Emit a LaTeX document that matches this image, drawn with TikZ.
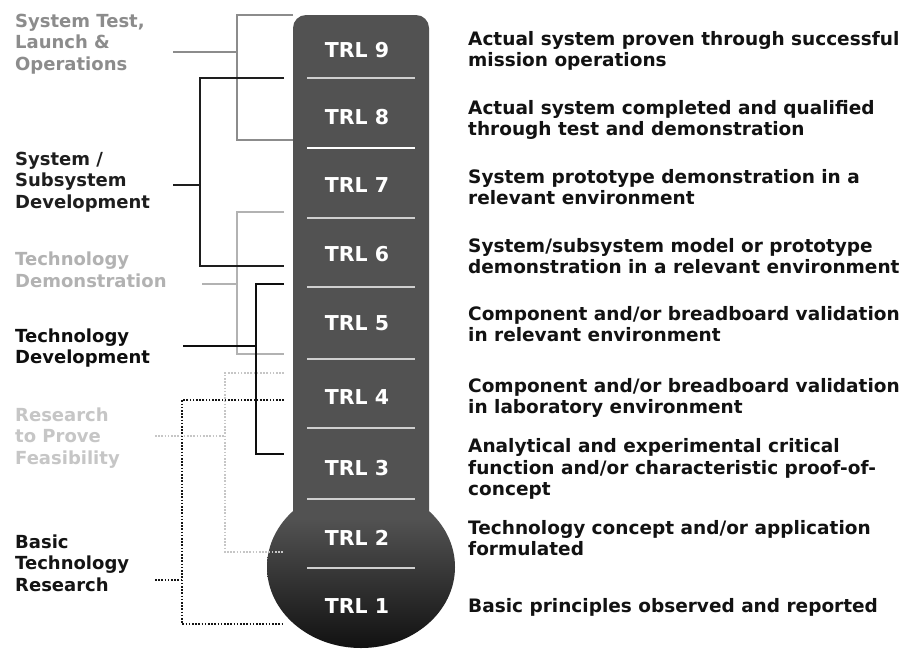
\documentclass[tikz,border=0pt]{standalone}
\usepackage{fontspec}
\setmainfont{DejaVu Sans}
\definecolor{tubec}{HTML}{525252}
\definecolor{bulbtop}{HTML}{525252}
\definecolor{bulbmid}{HTML}{3A3A3A}
\definecolor{bulbbot}{HTML}{111111}
\definecolor{cST}{HTML}{8C8C8C}
\definecolor{cSS}{HTML}{1E1E1E}
\definecolor{cTD}{HTML}{B2B2B2}
\definecolor{cDV}{HTML}{0E0E0E}
\definecolor{cRP}{HTML}{C6C6C6}
\definecolor{cBT}{HTML}{141414}
\definecolor{sep}{HTML}{CFCFCF}
\pgfdeclareverticalshading{bulbshade}{100bp}{color(0bp)=(bulbbot); color(25bp)=(bulbbot); color(50bp)=(bulbmid); color(65bp)=(bulbtop); color(100bp)=(bulbtop)}
\begin{document}
\begin{tikzpicture}[x=1pt,y=-1pt,
  trl/.style={text=white,font=\bfseries\fontsize{20.5}{24}\selectfont,inner sep=0pt},
  desc/.style={anchor=west,align=left,inner sep=0pt,text=black!93,font=\bfseries\fontsize{18.5}{21.6}\selectfont},
  lab/.style={anchor=west,align=left,inner sep=0pt,font=\bfseries\fontsize{18}{21.6}\selectfont},
  sepline/.style={draw=sep,line width=1.3pt},
  brk/.style={line width=1.4pt}]
\useasboundingbox (0,0) rectangle (904,649);
\fill[white] (0,0) rectangle (904,649);

% thermometer
\fill[tubec] (293,540) [rounded corners=13pt] -- (293,15) -- (429,15) [sharp corners] -- (429,540) -- cycle;
\shade[shading=bulbshade] (361,567) ellipse [x radius=94, y radius=81];

% separators
\foreach \yy in {78,218,287,359,428,499,568}
  \draw[sepline] (307,\yy) -- (415,\yy);
\draw[draw=white,line width=2.2pt] (307,148) -- (415,148);

% TRL labels
\node[trl] (t9) at (357,50) {TRL 9};
\node[trl] (t8) at (357,117) {TRL 8};
\node[trl] (t7) at (357,185) {TRL 7};
\node[trl] (t6) at (357,254) {TRL 6};
\node[trl] (t5) at (357,323) {TRL 5};
\node[trl] (t4) at (357,397) {TRL 4};
\node[trl] (t3) at (357,468) {TRL 3};
\node[trl] (t2) at (357,538) {TRL 2};
\node[trl] (t1) at (357,606) {TRL 1};

% descriptions
\node[desc] (d9) at (468,51) {Actual system proven through successful\\mission operations};
\node[desc] (d8) at (468,120) {Actual system completed and qualified\\through test and demonstration};
\node[desc] (d7) at (468,187) {System prototype demonstration in a\\relevant environment};
\node[desc] (d6) at (468,256) {System/subsystem model or prototype\\demonstration in a relevant environment};
\node[desc] (d5) at (468,324) {Component and/or breadboard validation\\in relevant environment};
\node[desc] (d4) at (468,398) {Component and/or breadboard validation\\in laboratory environment};
\node[desc] (d3) at (468,469) {Analytical and experimental critical\\function and/or characteristic proof-of-\\concept};
\node[desc] (d2) at (468,538) {Technology concept and/or application\\formulated};
\node[desc] (d1) at (468,607) {Basic principles observed and reported};

% left labels
\node[lab,text=cST] (l6) at (15,44) {System Test,\\Launch \&\\Operations};
\node[lab,text=cSS] (l5) at (15,182) {System /\\Subsystem\\Development};
\node[lab,text=cTD] (l4) at (15,270) {Technology\\Demonstration};
\node[lab,text=cDV] (l3) at (15,348) {Technology\\Development};
\node[lab,text=cRP] (l2) at (15,438) {Research\\to Prove\\Feasibility};
\node[lab,text=cBT] (l1) at (15,563) {Basic\\Technology\\Research};

% bracket coordinates
\coordinate (a6) at (173,52);  \coordinate (k6) at (237,52);
\coordinate (a5) at (173,185); \coordinate (k5) at (200,185);
\coordinate (a4) at (202,284); \coordinate (k4) at (237,284);
\coordinate (a3) at (183,346); \coordinate (k3) at (256,346);
\coordinate (a2) at (155,436); \coordinate (k2) at (225,436);
\coordinate (a1) at (155,580); \coordinate (k1) at (182,580);

% brackets
\draw[brk,cTD] (284,212) -- (237,212) -- (237,354) -- (284,354);
\draw[brk,cTD] (a4) -- (k4);
\draw[brk,cRP,dash pattern=on 1.6pt off 1.6pt] (284,373) -- (225,373) -- (225,552) -- (284,552);
\draw[brk,cRP,dash pattern=on 1.6pt off 1.6pt] (a2) -- (k2);
\draw[brk,cST] (293,15) -- (237,15) -- (237,140) -- (293,140);
\draw[brk,cST] (a6) -- (k6);
\draw[brk,cSS] (284,78) -- (200,78) -- (200,266) -- (284,266);
\draw[brk,cSS] (a5) -- (k5);
\draw[cDV,line width=1.9pt] (284,284) -- (256,284) -- (256,454) -- (284,454);
\draw[cDV,line width=1.9pt] (a3) -- (k3);
\draw[brk,cBT,dash pattern=on 1.6pt off 1.6pt] (284,400) -- (182,400) -- (182,624) -- (284,624);
\draw[brk,cBT,dash pattern=on 1.6pt off 1.6pt] (a1) -- (k1);
\end{tikzpicture}
\end{document}
